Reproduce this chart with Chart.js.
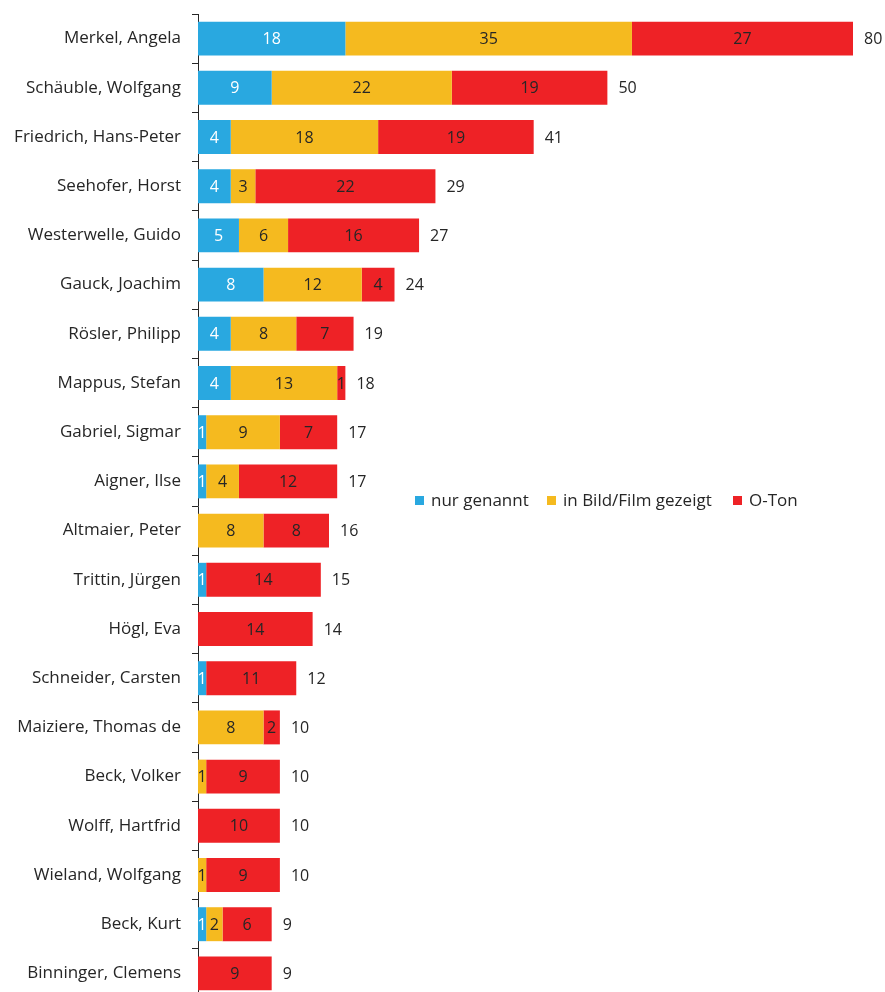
<!DOCTYPE html>
<html>
<head>
<meta charset="utf-8">
<script src="https://cdn.jsdelivr.net/npm/chart.js@4.4.0/dist/chart.umd.min.js"></script>
<style>
  html, body { margin: 0; padding: 0; background: #fff; overflow: hidden; }
  #wrap { position: relative; width: 885px; height: 1000px; }
  #legend { position: absolute; left: 0; top: 488px; font-family: "Open Sans", Lato, sans-serif; font-size: 17px; color: #262626; white-space: nowrap; }
  #legend span.item { position: absolute; top: 0; }
  #legend i { display: inline-block; width: 9px; height: 9px; margin-right: 7px; vertical-align: 1px; }
</style>
</head>
<body>
<div id="wrap">
  <canvas id="myChart" width="885" height="1000"></canvas>
  <div id="legend"></div>
</div>
<script>
// politicians, top to bottom
const names = [
  'Merkel, Angela', 'Schäuble, Wolfgang', 'Friedrich, Hans-Peter', 'Seehofer, Horst',
  'Westerwelle, Guido', 'Gauck, Joachim', 'Rösler, Philipp', 'Mappus, Stefan',
  'Gabriel, Sigmar', 'Aigner, Ilse', 'Altmaier, Peter', 'Trittin, Jürgen',
  'Högl, Eva', 'Schneider, Carsten', 'Maiziere, Thomas de', 'Beck, Volker',
  'Wolff, Hartfrid', 'Wieland, Wolfgang', 'Beck, Kurt', 'Binninger, Clemens'
];

const nurGenannt = [18, 9, 4, 4, 5, 8, 4, 4, 1, 1, 0, 1, 0, 1, 0, 0, 0, 0, 1, 0];
const inBild     = [35, 22, 18, 3, 6, 12, 8, 13, 9, 4, 8, 0, 0, 0, 8, 1, 0, 1, 2, 0];
const oTon       = [27, 19, 19, 22, 16, 4, 7, 1, 7, 12, 8, 14, 14, 11, 2, 9, 10, 9, 6, 9];

const seriesNames = ['nur genannt', 'in Bild/Film gezeigt', 'O-Ton'];
const colors = ['#29A8E0', '#F5BA1F', '#EE2226'];
const labelColors = ['#ffffff', '#262626', '#262626'];
const legendLeft = [415, 547, 733];

const fontFamily = '"Open Sans", Lato, sans-serif';

// legend
const legendEl = document.getElementById('legend');
seriesNames.forEach((n, i) => {
  const s = document.createElement('span');
  s.className = 'item';
  s.style.left = legendLeft[i] + 'px';
  s.innerHTML = '<i style="background:' + colors[i] + '"></i>' + n;
  legendEl.appendChild(s);
});

const valueLabels = {
  id: 'valueLabels',
  afterDatasetsDraw(chart) {
    const ctx = chart.ctx;
    ctx.save();
    ctx.font = '16px ' + fontFamily;
    ctx.textBaseline = 'middle';
    chart.data.datasets.forEach((ds, di) => {
      const meta = chart.getDatasetMeta(di);
      meta.data.forEach((bar, i) => {
        const v = ds.data[i];
        if (!v) return;
        ctx.fillStyle = labelColors[di];
        ctx.textAlign = 'center';
        ctx.fillText(v, (bar.x + bar.base) / 2, bar.y + 1);
      });
    });
    // totals
    const last = chart.getDatasetMeta(chart.data.datasets.length - 1);
    last.data.forEach((bar, i) => {
      const total = nurGenannt[i] + inBild[i] + oTon[i];
      ctx.fillStyle = '#262626';
      ctx.textAlign = 'left';
      ctx.fillText(total, bar.x + 11, bar.y + 1);
    });
    ctx.restore();
  }
};

const chartContainer = document.getElementById('myChart');

const chartConfiguration = {
  type: 'bar',
  data: {
    labels: names,
    datasets: [nurGenannt, inBild, oTon].map((d, i) => ({
      label: seriesNames[i],
      data: d,
      backgroundColor: colors[i],
      borderWidth: 0,
      barPercentage: 0.69,
      categoryPercentage: 1
    }))
  },
  options: {
    indexAxis: 'y',
    responsive: false,
    animation: false,
    layout: { padding: { top: 14, right: 32, bottom: 2, left: 0 } },
    plugins: {
      legend: { display: false },
      tooltip: { enabled: false }
    },
    scales: {
      x: {
        stacked: true,
        display: false,
        min: 0,
        max: 80
      },
      y: {
        stacked: true,
        afterFit(scale) {
          scale.width = 198;
          scale.paddingTop = 0;
          scale.paddingBottom = 0;
        },
        border: { display: true, color: '#262626', width: 1 },
        grid: { drawOnChartArea: false, tickLength: 6, color: '#262626', offset: true },
        ticks: {
          padding: 11,
          color: '#262626',
          font: { family: fontFamily, size: 17 }
        }
      }
    }
  },
  plugins: [valueLabels]
};

const myChart = new Chart(chartContainer, chartConfiguration);
</script>
</body>
</html>
